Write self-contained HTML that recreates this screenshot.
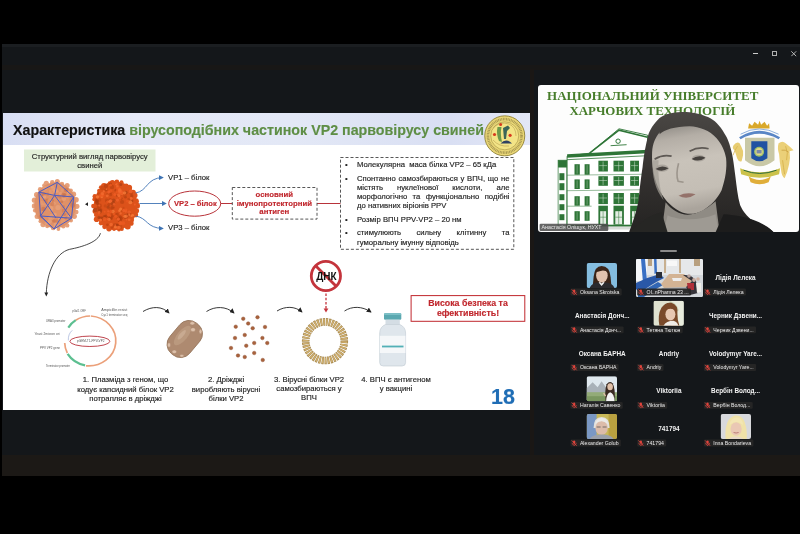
<!DOCTYPE html>
<html><head><meta charset="utf-8">
<style>
*{margin:0;padding:0;box-sizing:border-box}
html,body{width:800px;height:534px;overflow:hidden;background:#000;font-family:"Liberation Sans",sans-serif}
.t,.s77{will-change:transform;-webkit-text-stroke:0.15px currentColor}
svg{will-change:transform}
.a{position:absolute}
.t{position:absolute;white-space:nowrap}
#app{position:absolute;left:2px;top:44px;width:798px;height:431.5px;background:#14171a}
#botband{position:absolute;left:2px;top:455px;width:798px;height:20.5px;background:#1c1916}
#slide{position:absolute;left:3px;top:113.4px;width:526.5px;height:296.2px;background:#fff}
#hdr{position:absolute;left:3px;top:113.4px;width:526.5px;height:31.2px;background:linear-gradient(90deg,#d8def3 0%,#e5e9f7 25%,#e3e8f6 55%,#d9dff3 85%,#e3e7f6 100%)}
.s77{font-size:7.7px;line-height:9.2px;color:#222}
.red{color:#c0272d}
.bl p{position:relative}
</style></head><body>
<div id="app"></div>
<div id="botband"></div>
<div class="a" style="left:2px;top:44px;width:798px;height:2.5px;background:#1b1e21"></div>
<div class="a" style="left:2px;top:64.5px;width:798px;height:5px;background:#181716"></div>
<!-- window controls -->
<div class="a" style="left:753px;top:53px;width:5px;height:1px;background:#ccc"></div>
<div class="a" style="left:772px;top:51px;width:4.5px;height:5px;border:1px solid #b0b0b0;border-top-width:1.6px"></div>
<svg class="a" style="left:790.8px;top:50.8px" width="6" height="6"><path d="M0.3 0.3L5.2 5.2M5.2 0.3L0.3 5.2" stroke="#c4c4c4" stroke-width="0.9"/></svg>

<div id="slide"></div>
<div id="hdr"></div>
<div class="t" style="left:13px;top:123px;font-size:14.25px;line-height:14.25px;font-weight:bold;color:#111">Характеристика <span style="color:#5e8e45">вірусоподібних частинок VP2 парвовірусу свиней</span></div>

<!-- SLIDE GRAPHICS -->
<svg class="a" style="left:0;top:0" width="800" height="534">
  <defs>
    <radialGradient id="gv1" cx="0.45" cy="0.4" r="0.6"><stop offset="0" stop-color="#e5a080"/><stop offset="1" stop-color="#d58862"/></radialGradient>
    <radialGradient id="gv2" cx="0.45" cy="0.4" r="0.6"><stop offset="0" stop-color="#ef6a2a"/><stop offset="0.7" stop-color="#e0561c"/><stop offset="1" stop-color="#c44512"/></radialGradient>
    <marker id="ab" markerWidth="5" markerHeight="5" refX="4.2" refY="2.5" orient="auto" markerUnits="userSpaceOnUse"><path d="M0 0L5 2.5L0 5z" fill="#3f74b4"/></marker>
    <marker id="ak" markerWidth="5" markerHeight="5" refX="4.2" refY="2.5" orient="auto" markerUnits="userSpaceOnUse"><path d="M0 0L5 2.5L0 5z" fill="#222"/></marker>
    <marker id="ar" markerWidth="5" markerHeight="5" refX="4.2" refY="2.5" orient="auto" markerUnits="userSpaceOnUse"><path d="M0 0L5 2.5L0 5z" fill="#c0272d"/></marker>
  </defs>
  <!-- logo -->
  <circle cx="504.75" cy="135.85" r="20" fill="#ead777" stroke="#8f8036" stroke-width="0.9"/>
  <circle cx="504.75" cy="135.85" r="16.8" fill="none" stroke="#6d6030" stroke-width="2.6" stroke-dasharray="0.9 0.7" opacity="0.55"/>
  <circle cx="504.75" cy="135.85" r="14" fill="#f3e486" stroke="#a39043" stroke-width="0.6"/>
  <path d="M493 128 Q500 121 509 124 Q516 127 516 136 M493 140 Q499 147 509 146" stroke="#b9a050" stroke-width="0.6" fill="none"/>
  <path d="M497.5 127 Q496 134 499 141 L502 142 Q500 134 501.5 127 Z" fill="#6f9a4a"/>
  <path d="M503 128 L508 125.5 L510 128 L507 131 L506 139 L504 139 Z" fill="#3d6658"/>
  <path d="M500.5 143.5 Q506 137.5 512 143.5 Z" fill="#2f4162"/>
  <circle cx="500.6" cy="124.5" r="1.5" fill="#d83a1e"/><circle cx="494.5" cy="134.5" r="1.6" fill="#d83a1e"/><circle cx="510.1" cy="135.3" r="1.6" fill="#d83a1e"/>
  <!-- green label box -->
  <rect x="24" y="149.5" width="131.5" height="22" fill="#e3efd9"/>
<g id="rv">
<ellipse cx="115.5" cy="205.8" rx="21.8" ry="24.3" fill="#dc521a"/>
<circle cx="137.1" cy="205.7" r="2.9" fill="#dd531b"/>
<circle cx="136.6" cy="210.7" r="2.5" fill="#dd531b"/>
<circle cx="135.5" cy="214.7" r="2.6" fill="#dd531b"/>
<circle cx="131.9" cy="220.1" r="2.2" fill="#dd531b"/>
<circle cx="131.0" cy="223.2" r="2.6" fill="#dd531b"/>
<circle cx="127.7" cy="226.6" r="3.0" fill="#dd531b"/>
<circle cx="121.8" cy="229.0" r="2.0" fill="#dd531b"/>
<circle cx="119.0" cy="229.5" r="1.9" fill="#dd531b"/>
<circle cx="114.1" cy="229.3" r="1.8" fill="#dd531b"/>
<circle cx="109.0" cy="228.6" r="2.8" fill="#dd531b"/>
<circle cx="104.6" cy="226.8" r="2.4" fill="#dd531b"/>
<circle cx="100.9" cy="223.3" r="2.1" fill="#dd531b"/>
<circle cx="96.6" cy="219.2" r="2.8" fill="#dd531b"/>
<circle cx="96.0" cy="214.9" r="2.1" fill="#dd531b"/>
<circle cx="95.3" cy="211.2" r="2.7" fill="#dd531b"/>
<circle cx="93.4" cy="206.1" r="2.3" fill="#dd531b"/>
<circle cx="94.1" cy="199.4" r="1.8" fill="#dd531b"/>
<circle cx="94.9" cy="196.5" r="2.4" fill="#dd531b"/>
<circle cx="99.0" cy="190.7" r="1.9" fill="#dd531b"/>
<circle cx="101.0" cy="187.3" r="2.1" fill="#dd531b"/>
<circle cx="104.0" cy="185.9" r="3.0" fill="#dd531b"/>
<circle cx="109.7" cy="183.4" r="2.1" fill="#dd531b"/>
<circle cx="112.4" cy="182.9" r="2.8" fill="#dd531b"/>
<circle cx="116.9" cy="181.7" r="2.3" fill="#dd531b"/>
<circle cx="121.5" cy="182.3" r="2.0" fill="#dd531b"/>
<circle cx="126.2" cy="185.8" r="2.3" fill="#dd531b"/>
<circle cx="129.1" cy="187.7" r="3.0" fill="#dd531b"/>
<circle cx="133.0" cy="192.6" r="2.9" fill="#dd531b"/>
<circle cx="134.7" cy="195.4" r="2.8" fill="#dd531b"/>
<circle cx="135.9" cy="201.3" r="3.0" fill="#dd531b"/>
<circle cx="117.9" cy="217.2" r="2.1" fill="#bf4612" opacity="0.55"/>
<circle cx="121.7" cy="193.2" r="1.1" fill="#a8380c" opacity="0.55"/>
<circle cx="106.6" cy="200.1" r="1.8" fill="#bf4612" opacity="0.55"/>
<circle cx="110.2" cy="200.1" r="1.8" fill="#a8380c" opacity="0.55"/>
<circle cx="121.4" cy="198.5" r="1.2" fill="#a8380c" opacity="0.55"/>
<circle cx="119.8" cy="195.3" r="1.3" fill="#a8380c" opacity="0.55"/>
<circle cx="110.5" cy="192.5" r="1.7" fill="#b23e0e" opacity="0.55"/>
<circle cx="109.6" cy="209.3" r="1.1" fill="#bf4612" opacity="0.55"/>
<circle cx="116.8" cy="225.1" r="1.4" fill="#9a3a12" opacity="0.55"/>
<circle cx="113.2" cy="215.1" r="2.0" fill="#b23e0e" opacity="0.55"/>
<circle cx="125.5" cy="217.2" r="1.9" fill="#b23e0e" opacity="0.55"/>
<circle cx="111.8" cy="227.5" r="1.3" fill="#b23e0e" opacity="0.55"/>
<circle cx="127.5" cy="212.0" r="1.3" fill="#b23e0e" opacity="0.55"/>
<circle cx="121.1" cy="218.3" r="1.8" fill="#a8380c" opacity="0.55"/>
<circle cx="121.9" cy="210.5" r="1.6" fill="#bf4612" opacity="0.55"/>
<circle cx="106.0" cy="189.8" r="1.8" fill="#a8380c" opacity="0.55"/>
<circle cx="98.7" cy="193.9" r="1.7" fill="#bf4612" opacity="0.55"/>
<circle cx="109.3" cy="184.2" r="1.0" fill="#b23e0e" opacity="0.55"/>
<circle cx="97.9" cy="208.0" r="1.4" fill="#b23e0e" opacity="0.55"/>
<circle cx="129.1" cy="213.6" r="2.0" fill="#a8380c" opacity="0.55"/>
<circle cx="120.8" cy="184.5" r="1.5" fill="#9a3a12" opacity="0.55"/>
<circle cx="131.2" cy="193.2" r="1.6" fill="#b23e0e" opacity="0.55"/>
<circle cx="125.8" cy="192.6" r="1.9" fill="#9a3a12" opacity="0.55"/>
<circle cx="113.8" cy="207.6" r="1.1" fill="#b23e0e" opacity="0.55"/>
<circle cx="102.3" cy="188.1" r="2.2" fill="#bf4612" opacity="0.55"/>
<circle cx="101.9" cy="218.6" r="1.8" fill="#9a3a12" opacity="0.55"/>
<circle cx="100.7" cy="209.8" r="1.7" fill="#b23e0e" opacity="0.55"/>
<circle cx="113.2" cy="212.2" r="1.0" fill="#b23e0e" opacity="0.55"/>
<circle cx="99.3" cy="206.1" r="2.3" fill="#bf4612" opacity="0.55"/>
<circle cx="125.5" cy="197.3" r="1.2" fill="#a8380c" opacity="0.55"/>
<circle cx="97.6" cy="203.5" r="1.5" fill="#9a3a12" opacity="0.55"/>
<circle cx="105.3" cy="205.9" r="1.6" fill="#bf4612" opacity="0.55"/>
<circle cx="119.8" cy="220.2" r="2.1" fill="#a8380c" opacity="0.55"/>
<circle cx="124.9" cy="196.0" r="1.8" fill="#bf4612" opacity="0.55"/>
<circle cx="117.4" cy="214.0" r="1.5" fill="#b23e0e" opacity="0.55"/>
<circle cx="110.6" cy="184.0" r="1.4" fill="#a8380c" opacity="0.55"/>
<circle cx="126.3" cy="216.1" r="2.3" fill="#9a3a12" opacity="0.55"/>
<circle cx="104.5" cy="217.0" r="1.9" fill="#9a3a12" opacity="0.55"/>
<circle cx="107.4" cy="224.8" r="1.4" fill="#b23e0e" opacity="0.55"/>
<circle cx="110.7" cy="194.8" r="1.5" fill="#b23e0e" opacity="0.55"/>
<circle cx="107.2" cy="194.4" r="1.3" fill="#bf4612" opacity="0.55"/>
<circle cx="116.1" cy="214.4" r="1.1" fill="#b23e0e" opacity="0.55"/>
<circle cx="100.0" cy="211.8" r="1.9" fill="#bf4612" opacity="0.55"/>
<circle cx="132.1" cy="200.9" r="1.3" fill="#9a3a12" opacity="0.55"/>
<circle cx="114.8" cy="225.3" r="2.1" fill="#b23e0e" opacity="0.55"/>
<circle cx="120.2" cy="216.7" r="1.5" fill="#a8380c" opacity="0.55"/>
<circle cx="101.0" cy="218.5" r="2.3" fill="#b23e0e" opacity="0.55"/>
<circle cx="98.9" cy="217.4" r="1.5" fill="#9a3a12" opacity="0.55"/>
<circle cx="99.8" cy="211.1" r="2.3" fill="#9a3a12" opacity="0.55"/>
<circle cx="99.6" cy="200.0" r="1.7" fill="#bf4612" opacity="0.55"/>
<circle cx="99.2" cy="210.0" r="1.3" fill="#b23e0e" opacity="0.55"/>
<circle cx="120.0" cy="227.1" r="2.4" fill="#bf4612" opacity="0.55"/>
<circle cx="97.6" cy="201.1" r="1.4" fill="#b23e0e" opacity="0.55"/>
<circle cx="112.0" cy="211.2" r="1.6" fill="#9a3a12" opacity="0.55"/>
<circle cx="117.2" cy="189.8" r="1.0" fill="#b23e0e" opacity="0.55"/>
<circle cx="112.0" cy="207.7" r="1.7" fill="#a8380c" opacity="0.55"/>
<circle cx="95.1" cy="210.0" r="2.3" fill="#9a3a12" opacity="0.55"/>
<circle cx="129.2" cy="200.4" r="2.3" fill="#b23e0e" opacity="0.55"/>
<circle cx="116.2" cy="190.5" r="1.8" fill="#a8380c" opacity="0.55"/>
<circle cx="96.7" cy="202.8" r="1.8" fill="#bf4612" opacity="0.55"/>
<circle cx="105.9" cy="185.9" r="2.2" fill="#a8380c" opacity="0.55"/>
<circle cx="112.9" cy="214.0" r="1.8" fill="#bf4612" opacity="0.55"/>
<circle cx="107.2" cy="201.2" r="1.8" fill="#b23e0e" opacity="0.55"/>
<circle cx="112.8" cy="203.4" r="2.4" fill="#9a3a12" opacity="0.55"/>
<circle cx="95.7" cy="199.5" r="1.2" fill="#b23e0e" opacity="0.55"/>
<circle cx="113.6" cy="200.3" r="1.8" fill="#9a3a12" opacity="0.55"/>
<circle cx="131.8" cy="195.9" r="1.6" fill="#a8380c" opacity="0.55"/>
<circle cx="108.2" cy="207.2" r="1.6" fill="#9a3a12" opacity="0.55"/>
<circle cx="108.8" cy="204.6" r="1.6" fill="#b23e0e" opacity="0.55"/>
<circle cx="122.1" cy="202.0" r="2.1" fill="#b23e0e" opacity="0.55"/>
<circle cx="123.5" cy="207.8" r="1.0" fill="#bf4612" opacity="0.55"/>
<circle cx="110.1" cy="218.2" r="1.9" fill="#b23e0e" opacity="0.55"/>
<circle cx="99.7" cy="205.8" r="2.2" fill="#bf4612" opacity="0.55"/>
<circle cx="112.0" cy="186.9" r="2.2" fill="#b23e0e" opacity="0.55"/>
<circle cx="106.0" cy="216.2" r="1.7" fill="#a8380c" opacity="0.55"/>
<circle cx="96.8" cy="200.7" r="1.7" fill="#a8380c" opacity="0.55"/>
<circle cx="96.7" cy="201.9" r="1.9" fill="#a8380c" opacity="0.55"/>
<circle cx="117.4" cy="225.6" r="2.1" fill="#a8380c" opacity="0.55"/>
<circle cx="110.8" cy="217.7" r="2.3" fill="#a8380c" opacity="0.55"/>
<circle cx="117.1" cy="195.8" r="1.1" fill="#a8380c" opacity="0.55"/>
<circle cx="119.5" cy="210.7" r="1.3" fill="#f77a38" opacity="0.8"/>
<circle cx="121.9" cy="193.2" r="1.8" fill="#f46c30" opacity="0.8"/>
<circle cx="120.4" cy="222.7" r="1.8" fill="#f0602a" opacity="0.8"/>
<circle cx="120.5" cy="223.4" r="1.9" fill="#ec5a20" opacity="0.8"/>
<circle cx="126.2" cy="216.3" r="1.7" fill="#f46c30" opacity="0.8"/>
<circle cx="120.0" cy="191.1" r="0.9" fill="#f77a38" opacity="0.8"/>
<circle cx="120.7" cy="213.4" r="1.1" fill="#f46c30" opacity="0.8"/>
<circle cx="134.8" cy="204.5" r="1.0" fill="#f0602a" opacity="0.8"/>
<circle cx="126.5" cy="219.6" r="1.0" fill="#f0602a" opacity="0.8"/>
<circle cx="109.1" cy="219.3" r="1.5" fill="#f77a38" opacity="0.8"/>
<circle cx="118.5" cy="219.0" r="1.6" fill="#f0602a" opacity="0.8"/>
<circle cx="120.3" cy="197.9" r="1.4" fill="#ec5a20" opacity="0.8"/>
<circle cx="108.2" cy="211.3" r="1.1" fill="#f0602a" opacity="0.8"/>
<circle cx="112.9" cy="211.6" r="1.8" fill="#f77a38" opacity="0.8"/>
<circle cx="107.6" cy="201.7" r="1.5" fill="#ec5a20" opacity="0.8"/>
<circle cx="118.9" cy="195.1" r="1.9" fill="#f46c30" opacity="0.8"/>
<circle cx="120.5" cy="192.7" r="1.9" fill="#ec5a20" opacity="0.8"/>
<circle cx="117.4" cy="186.4" r="1.3" fill="#f46c30" opacity="0.8"/>
<circle cx="126.1" cy="211.4" r="1.4" fill="#f0602a" opacity="0.8"/>
<circle cx="130.7" cy="191.4" r="1.9" fill="#f0602a" opacity="0.8"/>
<circle cx="117.7" cy="227.4" r="1.6" fill="#ec5a20" opacity="0.8"/>
<circle cx="118.2" cy="219.7" r="1.1" fill="#f0602a" opacity="0.8"/>
<circle cx="100.1" cy="220.1" r="1.6" fill="#f0602a" opacity="0.8"/>
<circle cx="117.0" cy="183.7" r="0.9" fill="#f0602a" opacity="0.8"/>
<circle cx="114.8" cy="194.5" r="1.3" fill="#f0602a" opacity="0.8"/>
<circle cx="116.6" cy="187.8" r="0.9" fill="#ec5a20" opacity="0.8"/>
<circle cx="115.4" cy="227.1" r="1.5" fill="#f77a38" opacity="0.8"/>
<circle cx="130.3" cy="202.3" r="2.0" fill="#f77a38" opacity="0.8"/>
<circle cx="117.5" cy="200.1" r="1.6" fill="#f0602a" opacity="0.8"/>
<circle cx="100.8" cy="220.0" r="1.3" fill="#f46c30" opacity="0.8"/>
<circle cx="124.6" cy="192.8" r="1.6" fill="#f77a38" opacity="0.8"/>
<circle cx="127.7" cy="200.9" r="1.5" fill="#ec5a20" opacity="0.8"/>
<circle cx="108.4" cy="214.7" r="1.6" fill="#ec5a20" opacity="0.8"/>
<circle cx="106.5" cy="189.2" r="0.9" fill="#f46c30" opacity="0.8"/>
<circle cx="101.8" cy="196.7" r="1.3" fill="#f77a38" opacity="0.8"/>
<circle cx="126.1" cy="209.9" r="1.3" fill="#ec5a20" opacity="0.8"/>
<circle cx="132.6" cy="215.3" r="1.4" fill="#f77a38" opacity="0.8"/>
<circle cx="115.4" cy="225.2" r="0.9" fill="#f0602a" opacity="0.8"/>
<circle cx="131.2" cy="198.5" r="1.4" fill="#f46c30" opacity="0.8"/>
<circle cx="110.1" cy="201.2" r="1.6" fill="#f77a38" opacity="0.8"/>
<circle cx="129.2" cy="219.8" r="1.3" fill="#f46c30" opacity="0.8"/>
<circle cx="125.0" cy="216.3" r="1.6" fill="#f77a38" opacity="0.8"/>
<circle cx="102.6" cy="195.2" r="1.7" fill="#ec5a20" opacity="0.8"/>
<circle cx="118.1" cy="189.8" r="2.0" fill="#ec5a20" opacity="0.8"/>
<circle cx="114.5" cy="194.9" r="1.0" fill="#ec5a20" opacity="0.8"/>
<circle cx="118.9" cy="188.5" r="1.3" fill="#ec5a20" opacity="0.8"/>
<circle cx="102.3" cy="193.7" r="1.7" fill="#f46c30" opacity="0.8"/>
<circle cx="103.8" cy="191.4" r="1.1" fill="#f46c30" opacity="0.8"/>
<circle cx="99.3" cy="205.6" r="1.1" fill="#f0602a" opacity="0.8"/>
<circle cx="114.1" cy="204.2" r="1.2" fill="#f0602a" opacity="0.8"/>
<circle cx="110.9" cy="200.8" r="1.5" fill="#f0602a" opacity="0.8"/>
<circle cx="116.2" cy="184.5" r="1.1" fill="#f46c30" opacity="0.8"/>
<circle cx="107.2" cy="195.8" r="1.4" fill="#f46c30" opacity="0.8"/>
<circle cx="108.1" cy="219.2" r="1.0" fill="#f0602a" opacity="0.8"/>
<circle cx="119.8" cy="191.6" r="1.8" fill="#f46c30" opacity="0.8"/>
<circle cx="99.2" cy="212.4" r="1.3" fill="#f46c30" opacity="0.8"/>
<circle cx="104.5" cy="219.1" r="2.0" fill="#ec5a20" opacity="0.8"/>
<circle cx="111.1" cy="224.6" r="1.8" fill="#f46c30" opacity="0.8"/>
<circle cx="104.6" cy="211.8" r="1.0" fill="#ec5a20" opacity="0.8"/>
<circle cx="120.6" cy="208.9" r="1.5" fill="#f77a38" opacity="0.8"/>
<circle cx="120.9" cy="191.8" r="1.8" fill="#f0602a" opacity="0.8"/>
<circle cx="123.7" cy="210.5" r="1.6" fill="#f0602a" opacity="0.8"/>
<circle cx="110.7" cy="191.0" r="1.7" fill="#ec5a20" opacity="0.8"/>
<circle cx="113.9" cy="214.1" r="1.3" fill="#ec5a20" opacity="0.8"/>
<circle cx="110.9" cy="211.5" r="1.7" fill="#ec5a20" opacity="0.8"/>
<circle cx="98.9" cy="213.4" r="1.2" fill="#ec5a20" opacity="0.8"/>
<circle cx="119.0" cy="227.4" r="1.7" fill="#f46c30" opacity="0.8"/>
<circle cx="131.3" cy="216.1" r="0.9" fill="#f77a38" opacity="0.8"/>
<circle cx="100.1" cy="195.7" r="1.7" fill="#ec5a20" opacity="0.8"/>
<circle cx="119.8" cy="190.1" r="1.8" fill="#f46c30" opacity="0.8"/>
<circle cx="123.3" cy="223.2" r="1.9" fill="#ec5a20" opacity="0.8"/>
<circle cx="119.1" cy="196.1" r="1.0" fill="#f46c30" opacity="0.8"/>
<circle cx="97.5" cy="196.8" r="1.6" fill="#f77a38" opacity="0.8"/>
<circle cx="129.1" cy="212.3" r="1.8" fill="#f0602a" opacity="0.8"/>
<circle cx="110.2" cy="215.9" r="1.0" fill="#ec5a20" opacity="0.8"/>
<circle cx="129.3" cy="214.8" r="1.1" fill="#f77a38" opacity="0.8"/>
<circle cx="115.8" cy="216.3" r="1.7" fill="#ec5a20" opacity="0.8"/>
<circle cx="116.7" cy="191.8" r="1.3" fill="#ec5a20" opacity="0.8"/>
<circle cx="108.9" cy="191.9" r="1.5" fill="#f0602a" opacity="0.8"/>
<circle cx="110.5" cy="185.2" r="1.4" fill="#ec5a20" opacity="0.8"/>
</g>
<g id="lv">
<circle cx="76.9" cy="206.3" r="2.6" fill="#e6a07a"/>
<circle cx="76.2" cy="212.1" r="2.4" fill="#e6a07a"/>
<circle cx="74.3" cy="216.3" r="2.6" fill="#e6a07a"/>
<circle cx="71.1" cy="220.5" r="1.9" fill="#e6a07a"/>
<circle cx="67.2" cy="225.4" r="2.2" fill="#e6a07a"/>
<circle cx="63.3" cy="226.3" r="2.2" fill="#e6a07a"/>
<circle cx="58.4" cy="229.0" r="1.9" fill="#e6a07a"/>
<circle cx="53.2" cy="227.9" r="2.4" fill="#e6a07a"/>
<circle cx="47.2" cy="226.3" r="1.9" fill="#e6a07a"/>
<circle cx="43.1" cy="224.6" r="2.7" fill="#e6a07a"/>
<circle cx="40.5" cy="221.2" r="2.0" fill="#e6a07a"/>
<circle cx="37.1" cy="216.6" r="2.5" fill="#e6a07a"/>
<circle cx="34.9" cy="210.5" r="2.0" fill="#e6a07a"/>
<circle cx="34.4" cy="205.9" r="2.6" fill="#e6a07a"/>
<circle cx="34.4" cy="200.2" r="2.6" fill="#e6a07a"/>
<circle cx="36.7" cy="194.7" r="2.7" fill="#e6a07a"/>
<circle cx="40.2" cy="189.2" r="2.3" fill="#e6a07a"/>
<circle cx="44.1" cy="185.5" r="2.0" fill="#e6a07a"/>
<circle cx="46.3" cy="183.4" r="2.6" fill="#e6a07a"/>
<circle cx="52.3" cy="182.2" r="2.3" fill="#e6a07a"/>
<circle cx="57.3" cy="181.4" r="2.5" fill="#e6a07a"/>
<circle cx="61.9" cy="184.0" r="2.3" fill="#e6a07a"/>
<circle cx="67.2" cy="185.6" r="2.5" fill="#e6a07a"/>
<circle cx="70.9" cy="190.4" r="2.0" fill="#e6a07a"/>
<circle cx="73.5" cy="194.2" r="2.7" fill="#e6a07a"/>
<circle cx="76.0" cy="199.7" r="2.8" fill="#e6a07a"/>
<ellipse cx="55.2" cy="205.3" rx="21" ry="23" fill="#df9168"/>
<circle cx="53.7" cy="220.7" r="1.4" fill="#c97048" opacity="0.6"/>
<circle cx="72.7" cy="205.5" r="2.4" fill="#c97048" opacity="0.6"/>
<circle cx="63.9" cy="210.7" r="2.2" fill="#d07a50" opacity="0.6"/>
<circle cx="67.6" cy="194.0" r="1.3" fill="#e89e74" opacity="0.6"/>
<circle cx="63.5" cy="206.4" r="1.5" fill="#d07a50" opacity="0.6"/>
<circle cx="57.7" cy="191.5" r="1.3" fill="#eca67e" opacity="0.6"/>
<circle cx="47.6" cy="204.0" r="2.4" fill="#e89e74" opacity="0.6"/>
<circle cx="50.2" cy="217.6" r="2.0" fill="#eca67e" opacity="0.6"/>
<circle cx="52.7" cy="200.5" r="1.3" fill="#c97048" opacity="0.6"/>
<circle cx="64.7" cy="213.5" r="1.8" fill="#d07a50" opacity="0.6"/>
<circle cx="54.0" cy="203.4" r="1.7" fill="#eca67e" opacity="0.6"/>
<circle cx="56.3" cy="221.1" r="1.8" fill="#d07a50" opacity="0.6"/>
<circle cx="66.2" cy="190.0" r="2.2" fill="#c97048" opacity="0.6"/>
<circle cx="52.2" cy="217.9" r="2.0" fill="#e89e74" opacity="0.6"/>
<circle cx="71.3" cy="200.1" r="2.0" fill="#d07a50" opacity="0.6"/>
<circle cx="54.9" cy="214.8" r="2.2" fill="#e89e74" opacity="0.6"/>
<circle cx="51.5" cy="215.6" r="1.9" fill="#e89e74" opacity="0.6"/>
<circle cx="43.9" cy="209.6" r="1.3" fill="#d07a50" opacity="0.6"/>
<circle cx="65.6" cy="217.7" r="1.5" fill="#c97048" opacity="0.6"/>
<circle cx="40.8" cy="216.5" r="2.0" fill="#d07a50" opacity="0.6"/>
<circle cx="58.0" cy="207.5" r="2.6" fill="#eca67e" opacity="0.6"/>
<circle cx="50.9" cy="208.5" r="2.5" fill="#eca67e" opacity="0.6"/>
<circle cx="61.7" cy="201.8" r="1.5" fill="#c97048" opacity="0.6"/>
<circle cx="60.4" cy="193.4" r="1.7" fill="#eca67e" opacity="0.6"/>
<circle cx="43.4" cy="192.7" r="2.1" fill="#e89e74" opacity="0.6"/>
<circle cx="72.3" cy="203.2" r="2.1" fill="#d07a50" opacity="0.6"/>
<circle cx="54.6" cy="214.5" r="1.6" fill="#eca67e" opacity="0.6"/>
<circle cx="64.5" cy="213.4" r="1.9" fill="#e89e74" opacity="0.6"/>
<circle cx="62.1" cy="190.6" r="1.4" fill="#e89e74" opacity="0.6"/>
<circle cx="44.3" cy="201.5" r="1.9" fill="#c97048" opacity="0.6"/>
<circle cx="47.5" cy="201.1" r="2.5" fill="#c97048" opacity="0.6"/>
<circle cx="52.3" cy="203.9" r="2.1" fill="#d07a50" opacity="0.6"/>
<circle cx="64.0" cy="216.3" r="1.8" fill="#e89e74" opacity="0.6"/>
<circle cx="46.3" cy="223.2" r="1.7" fill="#eca67e" opacity="0.6"/>
<circle cx="64.8" cy="195.8" r="2.2" fill="#c97048" opacity="0.6"/>
<circle cx="66.9" cy="196.5" r="2.0" fill="#e89e74" opacity="0.6"/>
<circle cx="63.4" cy="221.2" r="2.5" fill="#e89e74" opacity="0.6"/>
<circle cx="49.8" cy="200.9" r="2.4" fill="#e89e74" opacity="0.6"/>
<circle cx="50.6" cy="193.6" r="2.3" fill="#e89e74" opacity="0.6"/>
<circle cx="59.2" cy="197.3" r="2.0" fill="#d07a50" opacity="0.6"/>
<circle cx="43.4" cy="209.1" r="2.3" fill="#c97048" opacity="0.6"/>
<circle cx="49.6" cy="221.5" r="2.2" fill="#eca67e" opacity="0.6"/>
<circle cx="43.6" cy="194.1" r="2.3" fill="#c97048" opacity="0.6"/>
<circle cx="59.3" cy="219.1" r="1.4" fill="#eca67e" opacity="0.6"/>
<circle cx="64.3" cy="214.4" r="1.7" fill="#c97048" opacity="0.6"/>
<circle cx="54.0" cy="221.2" r="1.7" fill="#d07a50" opacity="0.6"/>
<circle cx="52.2" cy="186.8" r="1.8" fill="#eca67e" opacity="0.6"/>
<circle cx="44.5" cy="196.8" r="1.8" fill="#eca67e" opacity="0.6"/>
<circle cx="55.3" cy="190.6" r="2.6" fill="#eca67e" opacity="0.6"/>
<circle cx="58.2" cy="198.8" r="1.4" fill="#e89e74" opacity="0.6"/>
<circle cx="42.7" cy="203.1" r="2.5" fill="#e89e74" opacity="0.6"/>
<circle cx="64.0" cy="199.0" r="2.1" fill="#eca67e" opacity="0.6"/>
<circle cx="53.5" cy="189.0" r="2.3" fill="#e89e74" opacity="0.6"/>
<circle cx="68.6" cy="192.0" r="1.5" fill="#eca67e" opacity="0.6"/>
<circle cx="56.1" cy="225.0" r="2.6" fill="#eca67e" opacity="0.6"/>
<circle cx="50.4" cy="190.9" r="1.5" fill="#e89e74" opacity="0.6"/>
<circle cx="44.9" cy="188.2" r="2.4" fill="#e89e74" opacity="0.6"/>
<circle cx="63.6" cy="195.1" r="2.3" fill="#c97048" opacity="0.6"/>
<circle cx="47.8" cy="194.2" r="1.4" fill="#d07a50" opacity="0.6"/>
<circle cx="69.2" cy="216.2" r="1.4" fill="#eca67e" opacity="0.6"/>
</g>
  <g stroke="#4a5cc4" stroke-width="1" fill="none" stroke-linejoin="round">
    <path d="M57.3 182.3 L38.9 192.1 L40.5 216 L54 229 L71.5 218.2 L73.7 197 Z"/>
    <path d="M57.3 182.3 L54.6 195.4 L38.9 192.1 M54.6 195.4 L73.7 197 M54.6 195.4 L40.5 216 L71.5 218.2 L54.6 195.4"/>
    <path d="M38.9 192.1 L56 218 M73.7 197 L54 229 M40.5 216 L54 229"/>
  </g>
  <path d="M88 202.3 L85 204.2 L88 206 Z" fill="#222"/>
  <!-- blue arrows -->
  <g stroke="#3f74b4" stroke-width="0.9" fill="none">
    <path d="M135.5 193 C148 191 146 178 163 177.5" marker-end="url(#ab)"/>
    <path d="M139.5 203.5 L166 203.5" marker-end="url(#ab)"/>
    <path d="M135.5 216 C148 218 146 228 163 228.5" marker-end="url(#ab)"/>
  </g>
  <!-- red ellipse and lines -->
  <ellipse cx="194.7" cy="203.6" rx="26" ry="12.6" fill="#fff" stroke="#b8333a" stroke-width="1"/>
  <path d="M220.7 203.5 L232.3 203.5 M317 203.5 L340.5 203.5" stroke="#b8333a" stroke-width="1"/>
  <rect x="232.3" y="187.5" width="84.7" height="31.6" fill="none" stroke="#444" stroke-width="0.9" stroke-dasharray="3 2"/>
  <rect x="340.5" y="157.5" width="173.3" height="91.8" fill="none" stroke="#444" stroke-width="0.9" stroke-dasharray="3 2"/>
  <!-- black curved arrow -->
  <path d="M100.4 233.2 C98.5 242 82 247 69.7 249.3 C55 253 47 273 46.3 293" stroke="#333" stroke-width="0.9" fill="none"/><path d="M44.4 292.5 L48.2 292.5 L46.3 296.5 Z" fill="#222"/>
  <!-- small curved arrows -->
  <g stroke="#222" stroke-width="0.9" fill="none">
    <path d="M143 311.5 C152 306 162 306 169 313" marker-end="url(#ak)"/>
    <path d="M206.5 311.5 C215 306 226 306 234 313" marker-end="url(#ak)"/>
    <path d="M277 311 C285 306 295 306 302 312" marker-end="url(#ak)"/>
    <path d="M344.5 311 C352 306 362 306 371 312" marker-end="url(#ak)"/>
  </g>
  <!-- plasmid -->
  <path d="M90.8 316 A27.1 25 0 1 1 86 365.8" stroke="#eba07a" stroke-width="1.7" fill="none"/>
  <path d="M64.7 343 A27.1 25 0 0 0 67.3 353" stroke="#eba07a" stroke-width="1.7" fill="none"/>
  <path d="M75.7 320.2 A27.1 25 0 0 1 90 316" stroke="#eba07a" stroke-width="1.7" fill="none"/>
  <path d="M75.7 320.2 A27.1 25 0 0 0 68.3 327.6" stroke="#5cbf90" stroke-width="2.2" fill="none"/>
  <path d="M67.6 353.9 A27.1 25 0 0 0 85.1 365.4" stroke="#5cbf90" stroke-width="2.2" fill="none"/>
  <path d="M72.3 330.3 Q68 334 68.3 340.4" stroke="#7a90c8" stroke-width="0.5" fill="none"/>
  <ellipse cx="89.85" cy="341.3" rx="20" ry="5.2" fill="none" stroke="#b8303a" stroke-width="0.9"/>
  <g font-family="Liberation Sans" font-size="2.6" fill="#555">
    <text x="77" y="342.3" textLength="27.5" lengthAdjust="spacingAndGlyphs">pGEM-T1-PPV-VP2</text>
    <text x="72.3" y="312.3" textLength="13.5" lengthAdjust="spacingAndGlyphs">pGal1 ORF</text>
    <text x="101.3" y="311" textLength="26" lengthAdjust="spacingAndGlyphs">Ampicillin resist</text>
    <text x="101.3" y="316" textLength="26" lengthAdjust="spacingAndGlyphs">Cyc1 terminator seq</text>
    <text x="46" y="321.8" textLength="19.5" lengthAdjust="spacingAndGlyphs">URA3 promoter</text>
    <text x="34.5" y="335.3" textLength="25" lengthAdjust="spacingAndGlyphs">Yeast 2micron ori</text>
    <text x="40" y="348.7" textLength="20" lengthAdjust="spacingAndGlyphs">PPV VP2 gene</text>
    <text x="46" y="366.7" textLength="24" lengthAdjust="spacingAndGlyphs">Terminator promoter</text>
  </g>
  <!-- yeast -->
  <g transform="rotate(-50 184.75 339)">
    <rect x="165" y="326" width="39.5" height="26" rx="12" ry="12" fill="#ae8a70" stroke="#94735a" stroke-width="0.8"/>
    <ellipse cx="186" cy="335" rx="12" ry="5" fill="#bd9c82" opacity="0.8"/>
    <ellipse cx="186" cy="334" rx="6" ry="2" fill="#ccae96" opacity="0.8"/>
  </g>
  <g fill="#dcc0aa" stroke="#a8866c" stroke-width="0.4">
    <ellipse cx="192.3" cy="323.3" rx="2.3" ry="1.7"/><ellipse cx="193" cy="329.7" rx="2.4" ry="2"/><ellipse cx="200.5" cy="331.5" rx="1.4" ry="2.2"/><ellipse cx="169" cy="345" rx="1.5" ry="2.2"/><ellipse cx="174.3" cy="351.8" rx="2.3" ry="1.8"/><ellipse cx="181.8" cy="355.8" rx="2" ry="1.3"/>
  </g>
  <!-- dots -->
  <g fill="#a8623c" stroke="#8a4a2a" stroke-width="0.4"><circle cx="243.25" cy="318.75" r="1.8"/><circle cx="257.5" cy="317.25" r="1.8"/><circle cx="248.2" cy="323.5" r="1.8"/><circle cx="235.75" cy="326.7" r="1.8"/><circle cx="252.7" cy="328.2" r="1.8"/><circle cx="265" cy="327" r="1.8"/><circle cx="244.75" cy="335" r="1.8"/><circle cx="235" cy="338" r="1.8"/><circle cx="262.4" cy="338" r="1.8"/><circle cx="254.2" cy="343" r="1.8"/><circle cx="267.25" cy="343" r="1.8"/><circle cx="246.25" cy="345.75" r="1.8"/><circle cx="231" cy="348" r="1.8"/><circle cx="254.2" cy="353" r="1.8"/><circle cx="238" cy="355.5" r="1.8"/><circle cx="244.75" cy="357" r="1.8"/><circle cx="262.75" cy="360" r="1.8"/></g>
  <!-- DNA no sign -->
  <circle cx="325.9" cy="276" r="14.6" fill="#fff" stroke="#c4343c" stroke-width="2.8"/>
  <path d="M315.6 265.7 L336.2 286.3" stroke="#c4343c" stroke-width="2.8"/>
  <text x="326.4" y="280.3" font-family="Liberation Sans" font-weight="bold" font-size="10" text-anchor="middle" fill="#111" textLength="20.4" lengthAdjust="spacingAndGlyphs">ДНК</text>
  <path d="M326 293.5 L326 309.5" stroke="#c4343c" stroke-width="1.3" stroke-dasharray="2.6 1.6"/>
  <path d="M323.6 308.5 L328.4 308.5 L326 312.6 Z" fill="#c4343c"/>
  <!-- ring -->
  <circle cx="325" cy="341.2" r="19.3" fill="none" stroke="#a88a50" stroke-width="7.6" stroke-dasharray="2.1 0.75"/>
  <circle cx="325" cy="341.2" r="19.3" fill="none" stroke="#d0b070" stroke-width="6" stroke-dasharray="1.3 1.55" stroke-dashoffset="-0.4"/>
  <!-- vial -->
  <rect x="384" y="313.2" width="17.3" height="6.5" rx="1.2" fill="#5aa8b0"/>
  <rect x="384" y="313.2" width="17.3" height="1.8" rx="0.9" fill="#7cc0c6"/>
  <rect x="385.5" y="319.7" width="14.3" height="5" fill="#d4dde4"/>
  <path d="M385.5 324.5 L399.8 324.5 Q405.6 327 405.6 333 L405.6 362.5 Q405.6 366 402 366 L383.3 366 Q379.7 366 379.7 362.5 L379.7 333 Q379.7 327 385.5 324.5 Z" fill="#dfe6ec" stroke="#c0cad2" stroke-width="0.6"/>
  <rect x="379.9" y="335.8" width="25.5" height="17.2" fill="#f5f7f9"/>
  <rect x="382" y="345.6" width="21.5" height="1.8" fill="#52b0b6"/>
  <!-- red box -->
  <rect x="411.1" y="295.6" width="113.7" height="25.7" fill="#fff" stroke="#c0272d" stroke-width="1"/>
</svg>

<!-- SLIDE TEXT -->
<div class="t s77" style="left:24px;top:153.2px;width:131.5px;text-align:center;line-height:8.5px">Структурний вигляд парвовірусу<br>свиней</div>
<div class="t s77" style="left:168px;top:173px">VP1 – білок</div>
<div class="t s77" style="left:168px;top:223px">VP3 – білок</div>
<div class="t s77 red" style="left:173.5px;top:199px;font-weight:bold;font-size:7.6px">VP2 – білок</div>
<div class="t red" style="left:232.3px;top:191.3px;width:84.7px;text-align:center;font-size:7.8px;line-height:8.6px;font-weight:bold">основний<br>імунопротекторний<br>антиген</div>
<!-- bullets -->
<div class="a s77" style="left:345px;top:160px;width:165px">
  <div class="a" style="left:0;top:0">•</div><div class="a" style="left:12px;top:0;white-space:nowrap">Молекулярна&nbsp; маса білка VP2 – 65 кДа</div>
  <div class="a" style="left:0;top:13.8px">•</div><div class="a" style="left:12px;top:13.8px;width:152.5px;text-align:justify">Спонтанно самозбираються у ВПЧ, що не містять нуклеїнової кислоти, але морфологічно та функціонально подібні до нативних віріонів PPV</div>
  <div class="a" style="left:0;top:54.5px">•</div><div class="a" style="left:12px;top:54.5px;white-space:nowrap">Розмір ВПЧ PPV-VP2 – 20 нм</div>
  <div class="a" style="left:0;top:68.3px">•</div><div class="a" style="left:12px;top:68.3px;width:152.5px;text-align:justify">стимулюють сильну клітинну та гуморальну імунну відповідь</div>
</div>
<!-- steps -->
<div class="t s77" style="left:70px;top:375px;width:111px;text-align:center;line-height:9.7px">1. Плазміда з геном, що<br>кодує капсидний білок VP2<br>потрапляє в дріжджі</div>
<div class="t s77" style="left:186px;top:375px;width:80px;text-align:center;line-height:9.7px">2. Дріжджі<br>виробляють вірусні<br>білки VP2</div>
<div class="t s77" style="left:269px;top:375px;width:80px;text-align:center;line-height:9px">3. Вірусні білки VP2<br>самозбираються у<br>ВПЧ</div>
<div class="t s77" style="left:356px;top:375px;width:80px;text-align:center;line-height:9.2px">4. ВПЧ є антигеном<br>у вакцині</div>
<div class="t red" style="left:411px;top:298px;width:114px;text-align:center;font-size:8.8px;line-height:10.2px;font-weight:bold">Висока безпека та<br>ефективність!</div>
<div class="t" style="left:491px;top:387.2px;font-size:21.5px;line-height:21.5px;font-weight:bold;color:#1f6db5">18</div>
<!-- divider -->
<div class="a" style="left:530px;top:69px;width:3.5px;height:386px;background:#1a1715"></div>
<!-- VIDEO -->
<div class="a" style="left:538.4px;top:84.8px;width:260.2px;height:147px;border-radius:3px;overflow:hidden;background:#fdfdfd">
<svg class="a" style="left:0;top:0" width="260.2" height="147" viewBox="538.4 84.8 260.2 147">
  <defs>
    <linearGradient id="face" x1="0" y1="0" x2="0.15" y2="1"><stop offset="0" stop-color="#8c8882"/><stop offset="0.18" stop-color="#b4aea6"/><stop offset="0.45" stop-color="#c9c3ba"/><stop offset="0.8" stop-color="#c4beb5"/><stop offset="1" stop-color="#aaa49c"/></linearGradient>
    <linearGradient id="hair" x1="0" y1="0" x2="0" y2="1"><stop offset="0" stop-color="#4a4744"/><stop offset="0.5" stop-color="#353230"/><stop offset="1" stop-color="#242322"/></linearGradient>
  </defs>
  <text x="547.5" y="100.3" font-family="Liberation Serif" font-weight="bold" font-size="13" fill="#477d2b" textLength="211.3" lengthAdjust="spacingAndGlyphs">НАЦІОНАЛЬНИЙ УНІВЕРСИТЕТ</text>
  <text x="569.8" y="114.9" font-family="Liberation Serif" font-weight="bold" font-size="13" fill="#477d2b" textLength="166" lengthAdjust="spacingAndGlyphs">ХАРЧОВИХ ТЕХНОЛОГІЙ</text>
  <!-- building -->
  <g>
    <rect x="558.5" y="160" width="8.8" height="66" fill="#fff" stroke="#2e7537" stroke-width="0.7"/>
    <rect x="558.5" y="160" width="8.8" height="7.3" fill="#2e7537"/>
    <rect x="559.8" y="173" width="5" height="7" fill="#2e7537"/>
    <rect x="559.8" y="183" width="5" height="7" fill="#2e7537"/>
    <rect x="559.8" y="194" width="5" height="6" fill="#2e7537"/>
    <rect x="559.8" y="204" width="5" height="6" fill="#2e7537"/>
    <rect x="559.8" y="214" width="5" height="6" fill="#2e7537"/>
    <path d="M567.5 156 L590 153 L619.4 128.6 L648 135 L648 226 L567.5 226 Z" fill="#fff" stroke="#2e7537" stroke-width="0.9"/>
    <path d="M567.5 154 L648 149.5 L648 153 L567.5 157.5 Z" fill="#2e7537"/>
    <path d="M567.5 159.5 L648 155.5" stroke="#2e7537" stroke-width="0.8"/>
    <path d="M590 153 L619.4 130 L648 137" stroke="#2e7537" stroke-width="1.6" fill="none"/>
    <circle cx="618.5" cy="141" r="2.2" fill="none" stroke="#2e7537" stroke-width="1"/>
    <path d="M611 145.5 L627 144.5" stroke="#2e7537" stroke-width="0.9"/>
    <rect x="574.9" y="164" width="5.3" height="10.5" fill="#2e7537"/>
    <path d="M577.5 165 L577.5 173.5" stroke="#cfe0cf" stroke-width="0.4"/>
    <rect x="574.9" y="179.2" width="5.3" height="9.6" fill="#2e7537"/>
    <path d="M577.5 180.2 L577.5 187.8" stroke="#cfe0cf" stroke-width="0.4"/>
    <rect x="574.9" y="196" width="5.3" height="9.5" fill="#2e7537"/>
    <path d="M577.5 197 L577.5 204.5" stroke="#cfe0cf" stroke-width="0.4"/>
    <rect x="574.9" y="211" width="5.3" height="9.6" fill="#2e7537"/>
    <path d="M577.5 212 L577.5 219.6" stroke="#cfe0cf" stroke-width="0.4"/>
    <rect x="585" y="164" width="5.0" height="10.5" fill="#2e7537"/>
    <path d="M587.5 165 L587.5 173.5" stroke="#cfe0cf" stroke-width="0.4"/>
    <rect x="585" y="179.2" width="5.0" height="9.6" fill="#2e7537"/>
    <path d="M587.5 180.2 L587.5 187.8" stroke="#cfe0cf" stroke-width="0.4"/>
    <rect x="585" y="196" width="5.0" height="9.5" fill="#2e7537"/>
    <path d="M587.5 197 L587.5 204.5" stroke="#cfe0cf" stroke-width="0.4"/>
    <rect x="585" y="211" width="5.0" height="9.6" fill="#2e7537"/>
    <path d="M587.5 212 L587.5 219.6" stroke="#cfe0cf" stroke-width="0.4"/>
    <rect x="598.8" y="160.5" width="9.5" height="10.8" fill="#2e7537"/>
    <path d="M603.5 161.3 L603.5 170.5 M599.6 165.4 L607.5 165.4" stroke="#d8e8d8" stroke-width="0.5"/>
    <rect x="598.8" y="176" width="9.5" height="9.6" fill="#2e7537"/>
    <path d="M603.5 176.8 L603.5 184.8 M599.6 180.3 L607.5 180.3" stroke="#d8e8d8" stroke-width="0.5"/>
    <rect x="598.8" y="192.8" width="9.5" height="11.1" fill="#2e7537"/>
    <path d="M603.5 193.6 L603.5 203.1 M599.6 197.8 L607.5 197.8" stroke="#d8e8d8" stroke-width="0.5"/>
    <rect x="598.8" y="205.5" width="9.5" height="19" fill="#2e7537"/>
    <rect x="600.6" y="211" width="5.9" height="13" fill="#e4eee4"/>
    <path d="M603.5 211 L603.5 224 M600.6 217 L606.5 217" stroke="#2e7537" stroke-width="0.5"/>
    <rect x="613.9" y="160.5" width="10.4" height="10.8" fill="#2e7537"/>
    <path d="M619.1 161.3 L619.1 170.5 M614.7 165.4 L623.5 165.4" stroke="#d8e8d8" stroke-width="0.5"/>
    <rect x="613.9" y="176" width="10.4" height="9.6" fill="#2e7537"/>
    <path d="M619.1 176.8 L619.1 184.8 M614.7 180.3 L623.5 180.3" stroke="#d8e8d8" stroke-width="0.5"/>
    <rect x="613.9" y="192.8" width="10.4" height="11.1" fill="#2e7537"/>
    <path d="M619.1 193.6 L619.1 203.1 M614.7 197.8 L623.5 197.8" stroke="#d8e8d8" stroke-width="0.5"/>
    <rect x="613.9" y="205.5" width="10.4" height="19" fill="#2e7537"/>
    <rect x="615.7" y="211" width="6.8" height="13" fill="#e4eee4"/>
    <path d="M619.1 211 L619.1 224 M615.7 217 L622.5 217" stroke="#2e7537" stroke-width="0.5"/>
    <rect x="630.6" y="160.5" width="8.8" height="10.8" fill="#2e7537"/>
    <path d="M635.0 161.3 L635.0 170.5 M631.4 165.4 L638.6 165.4" stroke="#d8e8d8" stroke-width="0.5"/>
    <rect x="630.6" y="176" width="8.8" height="9.6" fill="#2e7537"/>
    <path d="M635.0 176.8 L635.0 184.8 M631.4 180.3 L638.6 180.3" stroke="#d8e8d8" stroke-width="0.5"/>
    <rect x="630.6" y="192.8" width="8.8" height="11.1" fill="#2e7537"/>
    <path d="M635.0 193.6 L635.0 203.1 M631.4 197.8 L638.6 197.8" stroke="#d8e8d8" stroke-width="0.5"/>
    <rect x="630.6" y="205.5" width="8.8" height="19" fill="#2e7537"/>
    <rect x="632.4" y="211" width="5.2" height="13" fill="#e4eee4"/>
    <path d="M635.0 211 L635.0 224 M632.4 217 L637.6 217" stroke="#2e7537" stroke-width="0.5"/>
    <path d="M567.5 175 L648 174 M567.5 190.5 L648 189.5 M567.5 206 L592 206" stroke="#2e7537" stroke-width="0.5"/>
    <rect x="567.5" y="224.5" width="80.5" height="1.8" fill="#2e7537"/>
    <rect x="558" y="226.3" width="92" height="3" fill="#d8dcd8"/>
  </g>
  <!-- emblem -->
  <g>
    <path d="M748.5 128.3 L749.5 123 L752.5 125.5 L755 121.5 L758.5 124.5 L760 120.6 L761.5 124.5 L765 121.5 L767.5 125.5 L769.5 123 L770 128.3 Z" fill="#d9a82a"/>
    <path d="M739.5 137 Q759.5 124 780.5 137 L779 139 Q759.5 128 741 139 Z" fill="#5a86c6"/>
    <path d="M741 134 Q759.5 123.5 779 134" stroke="#8fb0dc" stroke-width="1" fill="none"/>
    <path d="M745.4 137.5 L774.9 137.5 L774.9 160 Q760 172 745.4 160 Z" fill="#c9c8a6"/>
    <path d="M751.7 141 L767.8 141 L767.8 158 Q759.8 164 751.7 158 Z" fill="#2152a2"/>
    <circle cx="759.5" cy="151.5" r="5" fill="#9fbf6a"/>
    <circle cx="759.5" cy="151.5" r="3.6" fill="#e3d98a"/>
    <rect x="757" y="149.8" width="5" height="3.4" fill="#7a8aa8"/>
    <path d="M734 145 Q737 141 740 143 L742 147 Q744 150 743.5 155 L742 161 Q739 162 737.5 158 Q736 153 735 150 Q732 148 734 145 Z" fill="#e8cd72"/><path d="M738 146 Q735 150 733.5 155" stroke="#d8b450" stroke-width="0.8" fill="none"/>
    <path d="M779 143 Q783 140 786 143 Q790 146 794 150 L790 151 Q791 157 789.5 164 Q788 172 785 178 Q782 176 781.5 170 Q780 162 779.5 154 Q777.5 148 779 143 Z" fill="#ebd078"/><path d="M786 146 Q789 152 787 160 M783 160 Q784 168 785 174" stroke="#d4ae48" stroke-width="0.8" fill="none"/>
    <path d="M782 150 Q786 149 789 152" stroke="#c9a040" stroke-width="0.8" fill="none"/>
    <path d="M740.5 168 Q760 176 780.5 168 L779.5 174 Q760 181 741.5 174 Z" fill="#cbc24a"/>
    <path d="M744 170 Q760 176.5 777 170" stroke="#2e6a3a" stroke-width="1" fill="none"/>
    <path d="M749 176 Q760 183.5 771.3 176 L769 182 Q760 186 751 182 Z" fill="#e0ae3a"/>
  </g>
  <!-- woman -->
  <path d="M682.3 111.7 C670 112 662 115 658.5 119.3 C652 126 649 132 647.8 138.3 C645 150 644 158 643 166.8 C641 180 640 190 639 200 C637 212 633 222 629.5 232 L774 232 C768 226 762 224 759.5 223.8 C754 221 751 219 748.8 216.7 C744 212 742 208 740.5 204.8 C738 196 737 186 735.8 176.3 C734.5 166 733.5 158 732.2 152.5 C730 143 728 138 725 133.5 C720 125 715 120 708.4 116.9 C700 113 692 111.6 682.3 111.7 Z" fill="url(#hair)"/>
  <path d="M660 134 C665 129 675 126.5 690 126 C700 126.5 710 130 717 138 C722 144 725 150 726.5 158 C727.5 168 726 178 722 190 C718 198 712 205 703 210.5 C696 214 688 215 680 211 C671 206 663 198 658 186 C654 176 652 165 652.5 152 C653 143 656 137 660 132 Z" fill="url(#face)"/>
  <path d="M666 202 C672 210 680 214 688 214.5 C698 214 708 208 716 201 L720 232 L662 232 Z" fill="#8f8b84"/>
  <path d="M668 215 C678 220 700 221 716 214 L719 232 L664 232 Z" fill="#9e9a93"/>
  <path d="M630 232 C640 222 652 214 662 212 L668 232 Z" fill="#262624"/>
  <path d="M774 232 C765 222 745 215 724 214 L716 232 Z" fill="#1c1c1c"/>
  <path d="M653 160 C652 176 656 190 664 200 C660 188 658 175 659 160 Z" fill="#a39e96" opacity="0.7"/>
  <ellipse cx="662.5" cy="168" rx="6.5" ry="3.6" fill="#a49e96" opacity="0.8"/>
  <ellipse cx="699" cy="158" rx="6.5" ry="3.4" fill="#a49e96" opacity="0.8"/>
  <path d="M656 168.8 Q662 164 669 168 Q662.5 172.5 656 168.8 Z" fill="#45413d"/>
  <path d="M692 158.8 Q698.5 154 706 157.5 Q699 162.5 692 158.8 Z" fill="#45413d"/>
  <path d="M655 159 Q663 154 672 156 M690 151 Q699 146 709 148.5" stroke="#5e5954" stroke-width="1.7" fill="none"/>
  <path d="M679 163 Q676 174 678.5 181 L684 182" stroke="#9c958c" stroke-width="1.6" fill="none"/>
  <path d="M679 195.5 Q687 191.5 696 194 Q688 200 679 195.5 Z" fill="#94726a"/>
  <!-- name label -->
  <rect x="540" y="223.5" width="68.7" height="7.2" rx="1.2" fill="#4a4a4a" opacity="0.85"/>
  <text x="542" y="229" font-family="Liberation Sans" font-size="5.3" fill="#e8e8e8">Анастасія Оліщук, НУХТ</text>
</svg>
</div>
<!-- handle -->
<div class="a" style="left:660px;top:250px;width:17px;height:1.6px;background:#8a8a8a;border-radius:1px"></div>

<!-- GALLERY -->
<svg class="a" style="left:0.7px;top:0" width="800" height="534">
<defs>
  <clipPath id="pc"><rect x="0" y="0" width="30.4" height="25" rx="2"/></clipPath>
  <clipPath id="fc"><rect x="0" y="0" width="67" height="38" rx="1.5"/></clipPath>
  <g id="mic"><rect x="2" y="0.4" width="2.2" height="3.4" rx="1.1" fill="#e0443c"/><path d="M1 2.8 Q1 5 3.1 5 Q5.2 5 5.2 2.8 M3.1 5 L3.1 6" stroke="#e0443c" stroke-width="0.7" fill="none"/><path d="M0.6 0.4 L5.6 5.8" stroke="#e0443c" stroke-width="0.8"/></g>
  <g id="oks" clip-path="url(#pc)">
    <rect width="30.4" height="25" fill="#84bde0"/>
    <path d="M6 25 L7 14 Q8 3 15 3 Q23 3 24 14 L25 25 Z" fill="#3a2418"/>
    <ellipse cx="15.3" cy="12.5" rx="5.8" ry="7" fill="#e2c2ae"/>
    <path d="M9 9 Q11 3.5 16 4 Q21 4.5 22 10 Q18 6.5 14 8 Q11 9 9 9 Z" fill="#3a2418"/>
    <path d="M3 25 Q6 19 12 19.5 L15 21 L18 19.5 Q25 19 28 25 Z" fill="#2a2a2e"/>
    <path d="M12 19.5 L15 23 L18 19.5 L16.5 19 L15 20.5 L13.5 19 Z" fill="#f2f2f2"/>
  </g>
  <g id="tet" clip-path="url(#pc)">
    <rect width="30.4" height="25" fill="#dfe2d0"/>
    <rect x="18" y="0" width="12.4" height="25" fill="#e8ecdd"/>
    <path d="M16 2 Q22 3 24 10" stroke="#b9c4a0" stroke-width="3" fill="none" opacity="0.6"/>
    <path d="M6 25 Q4 14 8 7 Q12 1 18 2 Q25 4 24 13 Q24 20 26 25 Z" fill="#7a4a2a"/>
    <ellipse cx="17" cy="13.5" rx="5" ry="6.2" fill="#e7c8b2"/>
    <path d="M9 10 Q12 4 19 5 Q22 6 23 10 Q18 6.5 13 9 Z" fill="#7a4a2a"/>
    <path d="M10 25 Q13 20 20 20 Q24 21 25 25 Z" fill="#f0ece6"/>
  </g>
  <g id="nat" clip-path="url(#pc)">
    <rect width="30.4" height="25" fill="#dfe8ee"/>
    <path d="M0 12 L6 6 L11 11 L15 5 L20 12 L20 25 L0 25 Z" fill="#a9b1b8"/>
    <rect x="0" y="16" width="30.4" height="9" fill="#93ab78"/>
    <rect x="0" y="20" width="30.4" height="5" fill="#7a9660"/>
    <path d="M19 25 Q18 14 20 8 Q23 4 26 7 Q29 12 28 25 Z" fill="#3a2a22"/>
    <ellipse cx="23.5" cy="10.5" rx="2.8" ry="3.5" fill="#e0c0a8"/>
    <path d="M19.5 25 Q20 17 23.5 16 Q27.5 17 28 25 Z" fill="#f4f4f4"/>
    <path d="M17 17 L19 20" stroke="#e0c0a8" stroke-width="1.3"/>
  </g>
  <g id="alex" clip-path="url(#pc)">
    <rect width="30.4" height="25" fill="#c8b858"/>
    <rect width="10" height="25" fill="#7a98c4"/>
    <rect x="22" y="0" width="8.4" height="25" fill="#b8a040"/>
    <path d="M7 14 Q7 3 15 3 Q23 3 23 14 Z" fill="#e2e0dc"/>
    <ellipse cx="15" cy="14" rx="6.2" ry="7" fill="#dcbcaa"/>
    <path d="M8.5 10 Q10 4 15 4 Q20.5 4 21.5 10 Q18 7 15 7.2 Q11 7 8.5 10 Z" fill="#ecebe8"/>
    <path d="M10 13 L14 13 M16 13 L20 13" stroke="#555" stroke-width="0.8"/>
    <path d="M3 25 Q6 20 15 20.5 Q24 20 27 25 Z" fill="#9aa0aa"/>
  </g>
  <g id="inna" clip-path="url(#pc)">
    <rect width="30.4" height="25" fill="#d8d9dc"/>
    <path d="M5 25 Q4 12 8 6 Q12 1 16 1.5 Q22 2 24 8 Q27 16 26 25 Z" fill="#f0e2a8"/>
    <ellipse cx="15.5" cy="15" rx="5.6" ry="6.8" fill="#eac8b4"/>
    <path d="M9 11 Q10 3 17 3.5 Q22 4.5 22.5 11 Q18 7 13 8.5 Q10.5 9.5 9 11 Z" fill="#f3e6b4"/>
    <path d="M13 18.5 Q15.5 19.5 18 18.5" stroke="#b06868" stroke-width="0.8" fill="none"/>
    <path d="M8 25 Q11 22 15.5 22.5 Q20 22 23 25 Z" fill="#e8d8c8"/>
  </g>
  <g id="pharma" clip-path="url(#fc)">
    <rect width="67" height="38" fill="#d4d8dc"/>
    <rect x="0" y="0" width="67" height="16" fill="#e6e8ea"/>
    <rect x="0" y="0" width="11" height="22" fill="#f4f6f8"/>
    <rect x="31" y="1.5" width="10" height="5.5" fill="#f8f8f8"/>
    <rect x="12" y="0" width="4" height="7" fill="#b8a080"/>
    <rect x="58" y="0" width="6" height="7" fill="#b8a080"/>
    <rect x="28" y="0" width="2" height="14" fill="#c8b090"/>
    <rect x="43" y="0" width="2" height="14" fill="#c8b090"/>
    <path d="M5 0 L9 0 L11 22 L7 24 Z" fill="#3a70c4"/>
    <path d="M18 0 L20.5 0 L21 14 L18.5 15 Z" fill="#3a70c4"/>
    <path d="M0 30 L0 24 Q12 18 24 15 L28 19 Q14 26 4 34 Z" fill="#2a58a8"/>
    <path d="M2 36 Q12 28 22 23 L27 26 Q16 32 8 38 L2 38 Z" fill="#3266b4"/>
    <path d="M25 25 L33 15 L48 15 L56 22 L50 28 L28 29 Z" fill="#d3b394"/>
    <path d="M36 19 L46 19 L45 22 L37 22 Z" fill="#eeeeee"/>
    <path d="M26 29 L50 28 L52 34 L28 34 Z" fill="#8a8e96" opacity="0.6"/>
    <path d="M47 16 Q56 15 60 22 L62 34 L54 36 L50 28 L56 22 Z" fill="#36343a"/>
    <circle cx="53" cy="17" r="1.8" fill="#b9a5a0"/><circle cx="58" cy="21" r="1.9" fill="#c8aca0"/><circle cx="62" cy="20" r="1.8" fill="#d0b0a0"/>
    <path d="M51 24 L58 24 L58 31 L52 31 Z" fill="#b0303a"/>
    <path d="M60 24 L65 24 L65 33 L61 34 Z" fill="#f0eeea"/>
    <rect x="20" y="13" width="6" height="6" fill="#2a2e38"/>
  </g>
</defs>

<use href="#oks" x="585.6" y="263.0"/>
<rect x="569.5" y="288.6" width="51.2" height="6.8" rx="1.2" fill="#262626" opacity="0.95"/>
<use href="#mic" x="570.1" y="289.0"/>
<text x="578.9" y="293.7" font-family="Liberation Sans" font-size="5.2" fill="#ececec">Oksana Skrotska</text>
<use href="#pharma" x="635.0" y="259.0"/>
<rect x="636.2" y="288.6" width="53.8" height="6.8" rx="1.2" fill="#262626" opacity="0.95"/>
<use href="#mic" x="636.8" y="289.0"/>
<text x="645.6" y="293.7" font-family="Liberation Sans" font-size="5.2" fill="#ececec">Ol..nPharma 23 ...</text>
<text x="734.5" y="280.2" font-family="Liberation Sans" font-weight="bold" font-size="6.4" fill="#f2f2f2" text-anchor="middle">Лідія Лелека</text>
<rect x="702.9" y="288.6" width="42.0" height="6.8" rx="1.2" fill="#262626" opacity="0.95"/>
<use href="#mic" x="703.5" y="289.0"/>
<text x="712.3" y="293.7" font-family="Liberation Sans" font-size="5.2" fill="#ececec">Лідія Лелека</text>
<text x="601.2" y="317.9" font-family="Liberation Sans" font-weight="bold" font-size="6.4" fill="#f2f2f2" text-anchor="middle">Анастасія Донч...</text>
<rect x="569.5" y="326.4" width="53.1" height="6.8" rx="1.2" fill="#262626" opacity="0.95"/>
<use href="#mic" x="570.1" y="326.8"/>
<text x="578.9" y="331.5" font-family="Liberation Sans" font-size="5.2" fill="#ececec">Анастасія Донч...</text>
<use href="#tet" x="652.4" y="300.8"/>
<rect x="636.2" y="326.4" width="45.5" height="6.8" rx="1.2" fill="#262626" opacity="0.95"/>
<use href="#mic" x="636.8" y="326.8"/>
<text x="645.6" y="331.5" font-family="Liberation Sans" font-size="5.2" fill="#ececec">Тетяна Тютюн</text>
<text x="734.5" y="317.9" font-family="Liberation Sans" font-weight="bold" font-size="6.4" fill="#f2f2f2" text-anchor="middle">Черник  Дзвени...</text>
<rect x="702.9" y="326.4" width="52.1" height="6.8" rx="1.2" fill="#262626" opacity="0.95"/>
<use href="#mic" x="703.5" y="326.8"/>
<text x="712.3" y="331.5" font-family="Liberation Sans" font-size="5.2" fill="#ececec">Черник Дзвени...</text>
<text x="601.2" y="355.7" font-family="Liberation Sans" font-weight="bold" font-size="6.4" fill="#f2f2f2" text-anchor="middle">Оксана БАРНА</text>
<rect x="569.5" y="364.1" width="48.1" height="6.8" rx="1.2" fill="#262626" opacity="0.95"/>
<use href="#mic" x="570.1" y="364.5"/>
<text x="578.9" y="369.2" font-family="Liberation Sans" font-size="5.2" fill="#ececec">Оксана БАРНА</text>
<text x="667.9" y="355.7" font-family="Liberation Sans" font-weight="bold" font-size="6.4" fill="#f2f2f2" text-anchor="middle">Andriy</text>
<rect x="636.2" y="364.1" width="26.3" height="6.8" rx="1.2" fill="#262626" opacity="0.95"/>
<use href="#mic" x="636.8" y="364.5"/>
<text x="645.6" y="369.2" font-family="Liberation Sans" font-size="5.2" fill="#ececec">Andriy</text>
<text x="734.5" y="355.7" font-family="Liberation Sans" font-weight="bold" font-size="6.4" fill="#f2f2f2" text-anchor="middle">Volodymyr  Yare...</text>
<rect x="702.9" y="364.1" width="52.2" height="6.8" rx="1.2" fill="#262626" opacity="0.95"/>
<use href="#mic" x="703.5" y="364.5"/>
<text x="712.3" y="369.2" font-family="Liberation Sans" font-size="5.2" fill="#ececec">Volodymyr Yare...</text>
<use href="#nat" x="585.6" y="376.2"/>
<rect x="569.5" y="401.9" width="52.2" height="6.8" rx="1.2" fill="#262626" opacity="0.95"/>
<use href="#mic" x="570.1" y="402.2"/>
<text x="578.9" y="407.0" font-family="Liberation Sans" font-size="5.2" fill="#ececec">Наталія Савенко</text>
<text x="667.9" y="393.4" font-family="Liberation Sans" font-weight="bold" font-size="6.4" fill="#f2f2f2" text-anchor="middle">Viktoriia</text>
<rect x="636.2" y="401.9" width="30.0" height="6.8" rx="1.2" fill="#262626" opacity="0.95"/>
<use href="#mic" x="636.8" y="402.2"/>
<text x="645.6" y="407.0" font-family="Liberation Sans" font-size="5.2" fill="#ececec">Viktoriia</text>
<text x="734.5" y="393.4" font-family="Liberation Sans" font-weight="bold" font-size="6.4" fill="#f2f2f2" text-anchor="middle">Вербін  Волод...</text>
<rect x="702.9" y="401.9" width="48.8" height="6.8" rx="1.2" fill="#262626" opacity="0.95"/>
<use href="#mic" x="703.5" y="402.2"/>
<text x="712.3" y="407.0" font-family="Liberation Sans" font-size="5.2" fill="#ececec">Вербін Волод...</text>
<use href="#alex" x="585.6" y="414.0"/>
<rect x="569.5" y="439.6" width="50.3" height="6.8" rx="1.2" fill="#262626" opacity="0.95"/>
<use href="#mic" x="570.1" y="440.0"/>
<text x="578.9" y="444.7" font-family="Liberation Sans" font-size="5.2" fill="#ececec">Alexander Golub</text>
<text x="667.9" y="431.2" font-family="Liberation Sans" font-weight="bold" font-size="6.4" fill="#f2f2f2" text-anchor="middle">741794</text>
<rect x="636.2" y="439.6" width="29.0" height="6.8" rx="1.2" fill="#262626" opacity="0.95"/>
<use href="#mic" x="636.8" y="440.0"/>
<text x="645.6" y="444.7" font-family="Liberation Sans" font-size="5.2" fill="#ececec">741794</text>
<use href="#inna" x="719.6" y="414.0"/>
<rect x="702.9" y="439.6" width="49.5" height="6.8" rx="1.2" fill="#262626" opacity="0.95"/>
<use href="#mic" x="703.5" y="440.0"/>
<text x="712.3" y="444.7" font-family="Liberation Sans" font-size="5.2" fill="#ececec">Inna Bondarieva</text>

</svg>
</body></html>
